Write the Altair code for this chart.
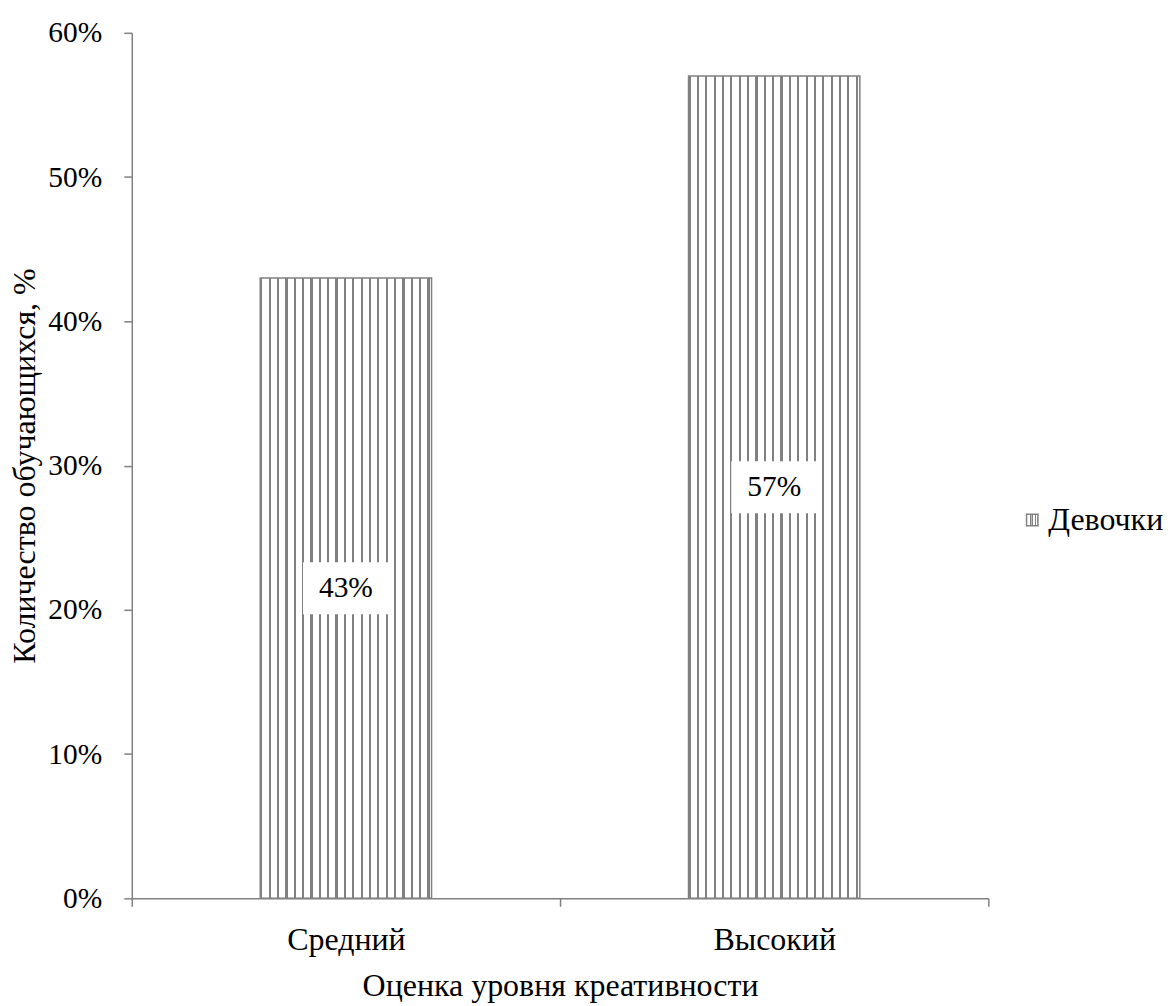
import altair as alt
import pandas as pd

categories = ["Средний", "Высокий"]
values = [0.43, 0.57]
series = "Девочки"
y_ticks = [0, 0.1, 0.2, 0.3, 0.4, 0.5, 0.6]

df = pd.DataFrame({"cat": categories, "val": values, "series": [series] * len(categories)})

FONT = "'Liberation Serif', 'Times New Roman', 'DejaVu Serif', serif"
GRAY = "#808080"

# striped (vertical hatch) fill built as a hard-stop linear gradient
n_stripes = 20.5
period = 1.0 / n_stripes
sw = 2.2 / 172
stops = []
k = 0
while k * period < 1.0:
    o = k * period
    stops.append(alt.GradientStop(offset=o, color=GRAY))
    stops.append(alt.GradientStop(offset=min(o + sw, 1.0), color=GRAY))
    stops.append(alt.GradientStop(offset=min(o + sw, 1.0), color="white"))
    stops.append(alt.GradientStop(offset=min(o + period, 1.0), color="white"))
    k += 1
stripes = alt.Gradient(gradient="linear", stops=stops, x1=0, x2=1, y1=0, y2=0)

x_enc = alt.X(
    "cat:N",
    sort=categories,
    scale=alt.Scale(paddingInner=0, paddingOuter=0),
    axis=alt.Axis(
        title="Оценка уровня креативности",
        tickBand="extent",
        labelAngle=0,
        labelFont=FONT,
        labelFontSize=32,
        labelColor="black",
        labelPadding=18,
        titleFont=FONT,
        titleFontSize=32,
        titleFontWeight="normal",
        titleColor="black",
        titlePadding=15,
        domainColor=GRAY,
        domainWidth=1.5,
        tickColor=GRAY,
        tickWidth=1.5,
        tickSize=8,
    ),
)

y_enc = alt.Y(
    "val:Q",
    scale=alt.Scale(domain=[0, 0.6], nice=False),
    axis=alt.Axis(
        title="Количество обучающихся,  %",
        values=y_ticks,
        format=".0%",
        grid=False,
        labelFont=FONT,
        labelFontSize=29.5,
        labelColor="black",
        labelPadding=22,
        titleFont=FONT,
        titleFontSize=32,
        titleFontWeight="normal",
        titleColor="black",
        titlePadding=6,
        domainColor=GRAY,
        domainWidth=1.5,
        tickColor=GRAY,
        tickWidth=1.5,
        tickSize=8,
    ),
)

bars = alt.Chart(df).mark_bar(
    fill=stripes, strokeWidth=1.5, width={"band": 0.4}
).encode(
    x=x_enc,
    y=y_enc,
    stroke=alt.Stroke(
        "series:N",
        scale=alt.Scale(range=[GRAY]),
        legend=alt.Legend(
            title=None,
            orient="none",
            legendX=886,
            legendY=472,
            padding=0,
            symbolType="M-1,-1H1V1H-1ZM0,-1V1",
            symbolSize=130,
            symbolFillColor="white",
            symbolStrokeColor=GRAY,
            symbolStrokeWidth=1.5,
            labelFont=FONT,
            labelFontSize=32,
            labelColor="black",
            labelOffset=0,
        ),
    ),
)

boxes = alt.Chart(df).transform_calculate(
    lo="datum.val / 2 - 0.018", hi="datum.val / 2 + 0.018"
).mark_bar(fill="white", width=86).encode(
    x=alt.X("cat:N", sort=categories),
    y=alt.Y("lo:Q"),
    y2="hi:Q",
)

labels = alt.Chart(df).transform_calculate(
    mid="datum.val / 2"
).mark_text(font=FONT, fontSize=29.5, color="black", baseline="middle").encode(
    x=alt.X("cat:N", sort=categories),
    y=alt.Y("mid:Q"),
    text=alt.Text("val:Q", format=".0%"),
)

chart = alt.layer(bars, boxes, labels).properties(
    width=858,
    height=867,
    autosize=alt.AutoSizeParams(type="none"),
    padding={"left": 124, "top": 24, "right": 180, "bottom": 107},
).configure(background="white", font=FONT).configure_view(stroke=None)

chart.save("out.html", embed_options={"renderer": "svg", "actions": False})
